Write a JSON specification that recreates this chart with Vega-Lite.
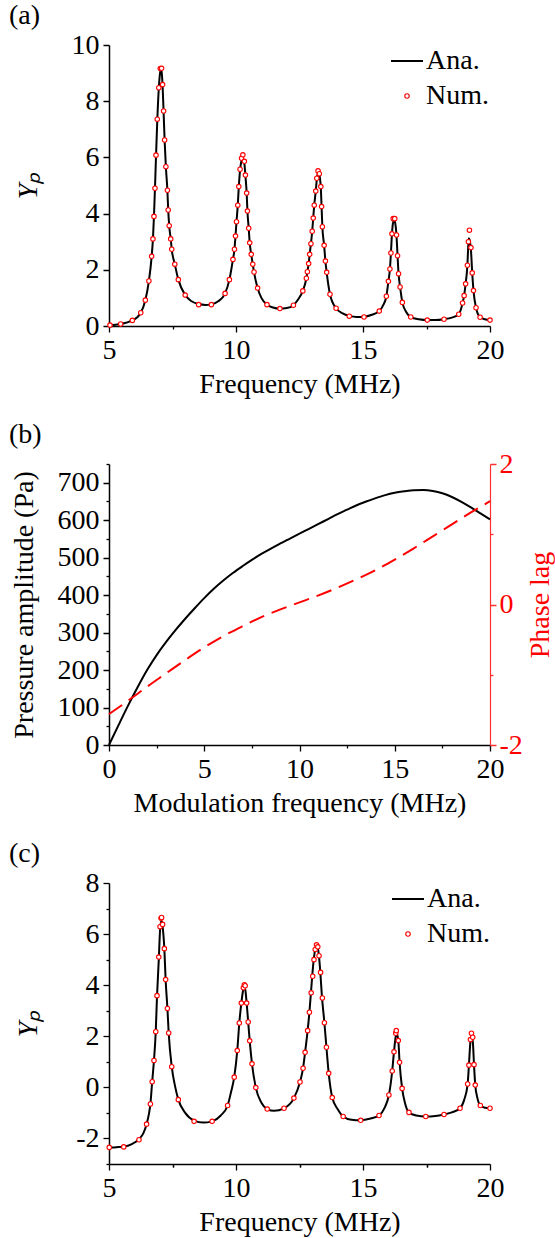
{
  "$schema": "https://vega.github.io/schema/vega-lite/v6.json",
  "padding": {"left": 9, "top": 2, "right": 2, "bottom": 2},
  "config": {
    "font": "Liberation Serif",
    "view": {"stroke": null},
    "axis": {"grid": false, "domainColor": "black", "domainWidth": 1.5, "tickColor": "black", "tickWidth": 1.3, "tickSize": 6, "labelFont": "Liberation Serif", "labelFontSize": 28, "labelColor": "black", "labelPadding": 4, "titleFont": "Liberation Serif", "titleFontSize": 28, "titleFontWeight": "normal", "titleColor": "black", "labelFlush": false, "labelOverlap": false, "labelBound": false},
    "legend": {"labelFont": "Liberation Serif", "labelFontSize": 28, "labelColor": "black", "padding": 0, "rowPadding": 7, "labelOffset": 5, "symbolSize": 1024},
    "title": {"font": "Liberation Serif", "fontSize": 28, "fontWeight": "normal", "color": "black", "anchor": "start", "frame": "group", "dx": -100, "offset": 1, "baseline": "alphabetic"}
  },
  "datasets": {
    "anaA": [
      {"f":5.0,"v":0.03},{"f":5.46,"v":0.07},{"f":5.92,"v":0.2},{"f":6.1,"v":0.3},{"f":6.25,"v":0.47},{"f":6.43,"v":0.92},{"f":6.57,"v":1.6},{"f":6.68,"v":2.48},{"f":6.73,"v":3.1},{"f":6.77,"v":3.9},{"f":6.81,"v":4.9},{"f":6.85,"v":6.0},{"f":6.9,"v":7.3},{"f":6.96,"v":8.45},{"f":7.01,"v":9.0},{"f":7.04,"v":9.1},{"f":7.07,"v":9.05},{"f":7.11,"v":8.55},{"f":7.15,"v":7.6},{"f":7.19,"v":6.6},{"f":7.24,"v":5.65},{"f":7.3,"v":4.8},{"f":7.33,"v":4.15},{"f":7.37,"v":3.57},{"f":7.43,"v":3.1},{"f":7.47,"v":2.73},{"f":7.59,"v":2.2},{"f":7.73,"v":1.65},{"f":8.0,"v":1.1},{"f":8.25,"v":0.88},{"f":8.53,"v":0.78},{"f":8.8,"v":0.75},{"f":9.03,"v":0.77},{"f":9.3,"v":0.88},{"f":9.57,"v":1.16},{"f":9.74,"v":1.65},{"f":9.88,"v":2.37},{"f":9.94,"v":2.73},{"f":9.98,"v":3.2},{"f":10.02,"v":3.71},{"f":10.07,"v":4.3},{"f":10.11,"v":4.96},{"f":10.16,"v":5.55},{"f":10.22,"v":5.9},{"f":10.26,"v":5.97},{"f":10.3,"v":5.9},{"f":10.34,"v":5.7},{"f":10.37,"v":5.35},{"f":10.42,"v":4.73},{"f":10.45,"v":4.09},{"f":10.5,"v":3.48},{"f":10.54,"v":2.96},{"f":10.6,"v":2.55},{"f":10.66,"v":2.2},{"f":10.71,"v":1.92},{"f":10.85,"v":1.35},{"f":11.0,"v":1.0},{"f":11.22,"v":0.76},{"f":11.45,"v":0.66},{"f":11.72,"v":0.62},{"f":12.0,"v":0.64},{"f":12.26,"v":0.74},{"f":12.45,"v":0.95},{"f":12.63,"v":1.25},{"f":12.77,"v":1.7},{"f":12.81,"v":1.93},{"f":12.86,"v":2.22},{"f":12.9,"v":2.55},{"f":12.95,"v":2.93},{"f":13.0,"v":3.37},{"f":13.04,"v":3.84},{"f":13.08,"v":4.3},{"f":13.14,"v":4.8},{"f":13.18,"v":5.2},{"f":13.22,"v":5.42},{"f":13.26,"v":5.45},{"f":13.3,"v":5.3},{"f":13.34,"v":4.9},{"f":13.37,"v":4.22},{"f":13.4,"v":3.53},{"f":13.47,"v":2.87},{"f":13.52,"v":2.31},{"f":13.57,"v":1.91},{"f":13.7,"v":1.13},{"f":13.94,"v":0.63},{"f":14.2,"v":0.45},{"f":14.46,"v":0.36},{"f":14.75,"v":0.32},{"f":15.04,"v":0.33},{"f":15.35,"v":0.4},{"f":15.64,"v":0.53},{"f":15.8,"v":0.75},{"f":15.92,"v":1.06},{"f":16.0,"v":1.59},{"f":16.06,"v":2.03},{"f":16.1,"v":2.6},{"f":16.14,"v":3.28},{"f":16.19,"v":3.7},{"f":16.23,"v":3.76},{"f":16.27,"v":3.65},{"f":16.32,"v":3.2},{"f":16.36,"v":2.5},{"f":16.4,"v":1.86},{"f":16.46,"v":1.39},{"f":16.55,"v":0.84},{"f":16.7,"v":0.5},{"f":16.88,"v":0.32},{"f":17.2,"v":0.24},{"f":17.53,"v":0.21},{"f":17.85,"v":0.21},{"f":18.19,"v":0.24},{"f":18.5,"v":0.3},{"f":18.77,"v":0.42},{"f":18.85,"v":0.58},{"f":18.92,"v":0.82},{"f":18.98,"v":1.08},{"f":19.04,"v":1.5},{"f":19.11,"v":2.16},{"f":19.15,"v":2.95},{"f":19.17,"v":3.12},{"f":19.2,"v":3.05},{"f":19.25,"v":2.7},{"f":19.3,"v":1.89},{"f":19.35,"v":1.26},{"f":19.45,"v":0.65},{"f":19.61,"v":0.31},{"f":19.8,"v":0.24},{"f":20.0,"v":0.21}
    ],
    "numA": [
      {"f":5.04,"v":0.03},{"f":5.46,"v":0.07},{"f":5.92,"v":0.2},{"f":6.25,"v":0.47},{"f":6.43,"v":0.92},{"f":6.57,"v":1.6},{"f":6.68,"v":2.48},{"f":6.73,"v":3.1},{"f":6.77,"v":3.9},{"f":6.81,"v":4.9},{"f":6.85,"v":6.08},{"f":6.9,"v":7.36},{"f":6.96,"v":8.48},{"f":7.02,"v":9.16},{"f":7.07,"v":9.17},{"f":7.11,"v":8.59},{"f":7.15,"v":7.65},{"f":7.19,"v":6.62},{"f":7.24,"v":5.67},{"f":7.3,"v":4.83},{"f":7.33,"v":4.13},{"f":7.37,"v":3.57},{"f":7.43,"v":3.1},{"f":7.47,"v":2.73},{"f":7.59,"v":2.2},{"f":7.73,"v":1.65},{"f":8.0,"v":1.1},{"f":8.53,"v":0.76},{"f":9.03,"v":0.76},{"f":9.57,"v":1.16},{"f":9.74,"v":1.65},{"f":9.88,"v":2.37},{"f":9.94,"v":2.73},{"f":9.98,"v":3.2},{"f":10.02,"v":3.71},{"f":10.07,"v":4.3},{"f":10.11,"v":4.96},{"f":10.16,"v":5.58},{"f":10.22,"v":5.97},{"f":10.27,"v":6.09},{"f":10.33,"v":5.86},{"f":10.37,"v":5.37},{"f":10.42,"v":4.73},{"f":10.45,"v":4.09},{"f":10.5,"v":3.48},{"f":10.54,"v":2.96},{"f":10.6,"v":2.55},{"f":10.66,"v":2.2},{"f":10.71,"v":1.92},{"f":10.85,"v":1.35},{"f":11.22,"v":0.76},{"f":11.73,"v":0.62},{"f":12.26,"v":0.74},{"f":12.63,"v":1.25},{"f":12.77,"v":1.7},{"f":12.81,"v":1.93},{"f":12.86,"v":2.22},{"f":12.9,"v":2.55},{"f":12.95,"v":2.93},{"f":13.0,"v":3.37},{"f":13.04,"v":3.84},{"f":13.08,"v":4.3},{"f":13.14,"v":4.8},{"f":13.18,"v":5.26},{"f":13.23,"v":5.52},{"f":13.28,"v":5.42},{"f":13.34,"v":4.96},{"f":13.37,"v":4.25},{"f":13.4,"v":3.53},{"f":13.47,"v":2.87},{"f":13.52,"v":2.31},{"f":13.57,"v":1.91},{"f":13.7,"v":1.13},{"f":13.94,"v":0.63},{"f":14.46,"v":0.35},{"f":15.04,"v":0.32},{"f":15.64,"v":0.53},{"f":15.92,"v":1.06},{"f":16.0,"v":1.59},{"f":16.06,"v":2.03},{"f":16.1,"v":2.6},{"f":16.14,"v":3.28},{"f":16.19,"v":3.82},{"f":16.25,"v":3.82},{"f":16.32,"v":3.24},{"f":16.36,"v":2.5},{"f":16.4,"v":1.86},{"f":16.46,"v":1.39},{"f":16.55,"v":0.84},{"f":16.88,"v":0.32},{"f":17.53,"v":0.21},{"f":18.19,"v":0.24},{"f":18.77,"v":0.42},{"f":18.92,"v":0.82},{"f":18.98,"v":1.08},{"f":19.04,"v":1.5},{"f":19.11,"v":2.16},{"f":19.15,"v":3.0},{"f":19.19,"v":3.41},{"f":19.25,"v":2.79},{"f":19.3,"v":1.89},{"f":19.35,"v":1.26},{"f":19.45,"v":0.65},{"f":19.61,"v":0.31},{"f":20.0,"v":0.21}
    ],
    "pbP": [
      {"f":0,"v":0},{"f":0.5,"v":53},{"f":1,"v":105},{"f":1.5,"v":154},{"f":2,"v":200},{"f":2.5,"v":240},{"f":3,"v":275},{"f":3.5,"v":307},{"f":4,"v":337},{"f":4.5,"v":365},{"f":5,"v":392},{"f":5.5,"v":417},{"f":6,"v":439},{"f":6.5,"v":459},{"f":7,"v":477},{"f":7.5,"v":494},{"f":8,"v":510},{"f":8.5,"v":524},{"f":9,"v":538},{"f":9.5,"v":551},{"f":10,"v":564},{"f":10.5,"v":577},{"f":11,"v":590},{"f":11.5,"v":603},{"f":12,"v":616},{"f":12.5,"v":628},{"f":13,"v":640},{"f":13.5,"v":650},{"f":14,"v":659},{"f":14.5,"v":667},{"f":15,"v":673},{"f":15.5,"v":677},{"f":16,"v":680},{"f":16.5,"v":680.5},{"f":17,"v":678},{"f":17.5,"v":672},{"f":18,"v":662},{"f":18.5,"v":649},{"f":19,"v":634},{"f":19.5,"v":618},{"f":20,"v":602}
    ],
    "pbL": [
      {"f":0,"v":-1.56},{"f":1,"v":-1.37},{"f":2,"v":-1.17},{"f":3,"v":-0.98},{"f":4,"v":-0.79},{"f":5,"v":-0.61},{"f":6,"v":-0.45},{"f":7,"v":-0.31},{"f":8,"v":-0.18},{"f":9,"v":-0.07},{"f":10,"v":0.03},{"f":11,"v":0.13},{"f":12,"v":0.24},{"f":13,"v":0.36},{"f":14,"v":0.49},{"f":15,"v":0.64},{"f":16,"v":0.8},{"f":17,"v":0.97},{"f":18,"v":1.14},{"f":19,"v":1.31},{"f":20,"v":1.47}
    ],
    "anaC": [
      {"f":5.0,"v":-2.35},{"f":5.3,"v":-2.34},{"f":5.58,"v":-2.32},{"f":5.9,"v":-2.22},{"f":6.18,"v":-2.03},{"f":6.35,"v":-1.8},{"f":6.48,"v":-1.44},{"f":6.57,"v":-1.05},{"f":6.63,"v":-0.65},{"f":6.7,"v":0.22},{"f":6.77,"v":1.05},{"f":6.84,"v":2.18},{"f":6.89,"v":3.55},{"f":6.96,"v":5.0},{"f":7.01,"v":6.15},{"f":7.05,"v":6.5},{"f":7.08,"v":6.5},{"f":7.11,"v":6.3},{"f":7.18,"v":5.4},{"f":7.23,"v":4.2},{"f":7.3,"v":3.09},{"f":7.35,"v":2.13},{"f":7.47,"v":0.81},{"f":7.6,"v":0.05},{"f":7.73,"v":-0.48},{"f":8.0,"v":-1.0},{"f":8.35,"v":-1.3},{"f":8.7,"v":-1.38},{"f":9.06,"v":-1.33},{"f":9.4,"v":-1.1},{"f":9.67,"v":-0.71},{"f":9.8,"v":-0.2},{"f":9.93,"v":0.4},{"f":10.05,"v":1.44},{"f":10.13,"v":2.52},{"f":10.21,"v":3.3},{"f":10.29,"v":3.85},{"f":10.33,"v":3.95},{"f":10.37,"v":3.8},{"f":10.42,"v":3.3},{"f":10.48,"v":2.56},{"f":10.54,"v":1.82},{"f":10.63,"v":0.92},{"f":10.78,"v":-0.01},{"f":11.0,"v":-0.6},{"f":11.23,"v":-0.85},{"f":11.5,"v":-0.92},{"f":11.89,"v":-0.82},{"f":12.28,"v":-0.42},{"f":12.52,"v":0.21},{"f":12.64,"v":0.75},{"f":12.72,"v":1.37},{"f":12.82,"v":2.22},{"f":12.89,"v":2.94},{"f":12.95,"v":3.7},{"f":13.0,"v":4.35},{"f":13.06,"v":5.0},{"f":13.12,"v":5.4},{"f":13.18,"v":5.5},{"f":13.22,"v":5.45},{"f":13.27,"v":5.1},{"f":13.32,"v":4.5},{"f":13.38,"v":3.6},{"f":13.48,"v":2.53},{"f":13.56,"v":1.57},{"f":13.65,"v":0.55},{"f":13.79,"v":-0.4},{"f":14.0,"v":-0.85},{"f":14.22,"v":-1.14},{"f":14.55,"v":-1.27},{"f":14.91,"v":-1.29},{"f":15.3,"v":-1.22},{"f":15.63,"v":-1.1},{"f":15.85,"v":-0.8},{"f":16.02,"v":-0.3},{"f":16.15,"v":0.64},{"f":16.22,"v":1.39},{"f":16.29,"v":2.0},{"f":16.33,"v":2.1},{"f":16.39,"v":1.83},{"f":16.44,"v":0.98},{"f":16.54,"v":-0.04},{"f":16.65,"v":-0.6},{"f":16.81,"v":-0.98},{"f":17.1,"v":-1.1},{"f":17.47,"v":-1.14},{"f":17.85,"v":-1.12},{"f":18.19,"v":-1.06},{"f":18.5,"v":-0.98},{"f":18.82,"v":-0.82},{"f":18.98,"v":-0.5},{"f":19.12,"v":0.13},{"f":19.17,"v":0.87},{"f":19.23,"v":1.8},{"f":19.27,"v":2.0},{"f":19.3,"v":1.95},{"f":19.33,"v":1.7},{"f":19.37,"v":0.89},{"f":19.42,"v":0.09},{"f":19.5,"v":-0.4},{"f":19.62,"v":-0.71},{"f":19.8,"v":-0.8},{"f":20.0,"v":-0.82}
    ],
    "numC": [
      {"f":5.01,"v":-2.35},{"f":5.58,"v":-2.33},{"f":6.18,"v":-2.05},{"f":6.48,"v":-1.44},{"f":6.63,"v":-0.65},{"f":6.7,"v":0.22},{"f":6.77,"v":1.05},{"f":6.84,"v":2.18},{"f":6.89,"v":3.59},{"f":6.96,"v":5.1},{"f":7.01,"v":6.29},{"f":7.05,"v":6.62},{"f":7.07,"v":6.65},{"f":7.11,"v":6.38},{"f":7.18,"v":5.43},{"f":7.23,"v":4.22},{"f":7.3,"v":3.09},{"f":7.35,"v":2.13},{"f":7.47,"v":0.81},{"f":7.73,"v":-0.48},{"f":8.35,"v":-1.33},{"f":9.06,"v":-1.33},{"f":9.67,"v":-0.71},{"f":9.93,"v":0.4},{"f":10.05,"v":1.44},{"f":10.13,"v":2.52},{"f":10.21,"v":3.3},{"f":10.29,"v":3.9},{"f":10.33,"v":4.02},{"f":10.36,"v":3.98},{"f":10.42,"v":3.3},{"f":10.48,"v":2.56},{"f":10.54,"v":1.82},{"f":10.63,"v":0.92},{"f":10.78,"v":-0.01},{"f":11.23,"v":-0.85},{"f":11.89,"v":-0.82},{"f":12.28,"v":-0.42},{"f":12.52,"v":0.21},{"f":12.64,"v":0.75},{"f":12.72,"v":1.37},{"f":12.82,"v":2.22},{"f":12.89,"v":2.94},{"f":12.96,"v":3.7},{"f":13.02,"v":4.35},{"f":13.07,"v":5.0},{"f":13.12,"v":5.4},{"f":13.17,"v":5.58},{"f":13.22,"v":5.5},{"f":13.27,"v":5.15},{"f":13.33,"v":4.5},{"f":13.4,"v":3.5},{"f":13.48,"v":2.53},{"f":13.56,"v":1.57},{"f":13.65,"v":0.55},{"f":13.79,"v":-0.4},{"f":14.22,"v":-1.14},{"f":14.91,"v":-1.29},{"f":15.63,"v":-1.1},{"f":16.02,"v":-0.3},{"f":16.15,"v":0.64},{"f":16.22,"v":1.39},{"f":16.29,"v":2.12},{"f":16.31,"v":2.22},{"f":16.39,"v":1.83},{"f":16.44,"v":0.98},{"f":16.54,"v":-0.04},{"f":16.81,"v":-0.98},{"f":17.47,"v":-1.14},{"f":18.19,"v":-1.06},{"f":18.82,"v":-0.82},{"f":19.12,"v":0.13},{"f":19.17,"v":0.87},{"f":19.23,"v":1.87},{"f":19.27,"v":2.12},{"f":19.32,"v":1.96},{"f":19.37,"v":0.89},{"f":19.42,"v":0.09},{"f":19.62,"v":-0.71},{"f":20.0,"v":-0.82}
    ]
  },
  "bounds": "flush",
  "spacing": 138,
  "resolve": {"scale": {"color": "independent"}, "legend": {"color": "independent"}},
  "vconcat": [
    {
      "width": 381, "height": 281,
      "title": {"text": "(a)"},
      "layer": [
        {
          "data": {"name": "anaA"},
          "mark": {"type": "line", "interpolate": "monotone", "strokeWidth": 2},
          "encoding": {
            "x": {"field": "f", "type": "quantitative", "scale": {"domain": [5, 20], "nice": false, "zero": false},
              "axis": {"title": "Frequency (MHz)", "values": [5, 7.5, 10, 12.5, 15, 17.5, 20], "labelExpr": "datum.value % 5 === 0 ? toString(datum.value) : ''", "tickDash": {"condition": {"test": "datum.value % 5 !== 0", "value": [3, 20]}, "value": [1, 0]}, "titlePadding": 6}},
            "y": {"field": "v", "type": "quantitative", "scale": {"domain": [0, 10], "nice": false},
              "axis": {"title": "Yₚ", "titleFontStyle": "italic", "values": [0,1,2,3,4,5,6,7,8,9,10], "labelExpr": "datum.value % 2 === 0 ? toString(datum.value) : ''", "tickDash": {"condition": {"test": "datum.value % 2 !== 0", "value": [3, 20]}, "value": [1, 0]}, "titlePadding": 29}},
            "color": {"datum": "Ana.", "type": "nominal", "scale": {"domain": ["Ana.", "Num."], "range": ["#000000", "#ff0000"]},
              "legend": {"title": null, "orient": "none", "legendX": 284, "legendY": 2, "values": ["Ana.", "Num."],
                "encode": {"symbols": {"update": {
                  "shape": {"signal": "datum.value === 'Ana.' ? 'stroke' : 'circle'"},
                  "size": {"signal": "datum.value === 'Ana.' ? 1024 : 20"},
                  "strokeWidth": {"signal": "datum.value === 'Ana.' ? 2 : 1.1"},
                  "stroke": {"signal": "datum.value === 'Ana.' ? '#000000' : '#ff0000'"},
                  "fill": {"value": "white"},
                  "opacity": {"value": 1}}}}}}
          }
        },
        {
          "data": {"name": "numA"},
          "mark": {"type": "point", "shape": "circle", "filled": false, "fill": "white", "size": 20, "strokeWidth": 1.1, "opacity": 1},
          "encoding": {
            "x": {"field": "f", "type": "quantitative"},
            "y": {"field": "v", "type": "quantitative"},
            "color": {"datum": "Num.", "type": "nominal"}
          }
        }
      ]
    },
    {
      "width": 381, "height": 281,
      "title": {"text": "(b)"},
      "layer": [
        {
          "data": {"name": "pbP"},
          "mark": {"type": "line", "interpolate": "monotone", "strokeWidth": 2, "color": "#000000"},
          "encoding": {
            "x": {"field": "f", "type": "quantitative", "scale": {"domain": [0, 20], "nice": false, "zero": false},
              "axis": {"title": "Modulation frequency (MHz)", "values": [0, 2.5, 5, 7.5, 10, 12.5, 15, 17.5, 20], "labelExpr": "datum.value % 5 === 0 ? toString(datum.value) : ''", "tickDash": {"condition": {"test": "datum.value % 5 !== 0", "value": [3, 20]}, "value": [1, 0]}, "titlePadding": 6}},
            "y": {"field": "v", "type": "quantitative", "scale": {"domain": [0, 750], "nice": false},
              "axis": {"title": "Pressure amplitude (Pa)", "orient": "left", "values": [0,50,100,150,200,250,300,350,400,450,500,550,600,650,700,750], "labelExpr": "datum.value % 100 === 0 ? toString(datum.value) : ''", "tickDash": {"condition": {"test": "datum.value % 100 !== 0", "value": [3, 20]}, "value": [1, 0]}, "titlePadding": 19}}
          }
        },
        {
          "data": {"name": "pbL"},
          "mark": {"type": "line", "interpolate": "monotone", "strokeWidth": 2, "color": "#ff0000", "strokeDash": [16, 8]},
          "encoding": {
            "x": {"field": "f", "type": "quantitative"},
            "y": {"field": "v", "type": "quantitative", "scale": {"domain": [-2, 2], "nice": false, "zero": false},
              "axis": {"title": "Phase lag", "orient": "right", "values": [-2, -1, 0, 1, 2], "labelExpr": "datum.value % 2 === 0 ? toString(datum.value) : ''", "tickDash": {"condition": {"test": "datum.value % 2 !== 0", "value": [3, 20]}, "value": [1, 0]}, "domainColor": "#ff3030", "domainWidth": 1.2, "tickColor": "#ff3030", "labelColor": "#ff0000", "titleColor": "#ff0000", "labelPadding": 3, "titleAngle": -90, "titleBaseline": "top", "titlePadding": 4}}
          }
        }
      ],
      "resolve": {"scale": {"y": "independent"}}
    },
    {
      "width": 381, "height": 281,
      "title": {"text": "(c)"},
      "layer": [
        {
          "data": {"name": "anaC"},
          "mark": {"type": "line", "interpolate": "monotone", "strokeWidth": 2},
          "encoding": {
            "x": {"field": "f", "type": "quantitative", "scale": {"domain": [5, 20], "nice": false, "zero": false},
              "axis": {"title": "Frequency (MHz)", "values": [5, 7.5, 10, 12.5, 15, 17.5, 20], "labelExpr": "datum.value % 5 === 0 ? toString(datum.value) : ''", "tickDash": {"condition": {"test": "datum.value % 5 !== 0", "value": [3, 20]}, "value": [1, 0]}, "titlePadding": 6}},
            "y": {"field": "v", "type": "quantitative", "scale": {"domain": [-3, 8], "nice": false},
              "axis": {"title": "Yₚ", "titleFontStyle": "italic", "orient": "left", "values": [-2, 0, 2, 4, 6, 8], "labelExpr": "toString(datum.value)", "titlePadding": 33}},
            "color": {"datum": "Ana.", "type": "nominal", "scale": {"domain": ["Ana.", "Num."], "range": ["#000000", "#ff0000"]},
              "legend": {"title": null, "orient": "none", "legendX": 285, "legendY": 2, "values": ["Ana.", "Num."],
                "encode": {"symbols": {"update": {
                  "shape": {"signal": "datum.value === 'Ana.' ? 'stroke' : 'circle'"},
                  "size": {"signal": "datum.value === 'Ana.' ? 1024 : 20"},
                  "strokeWidth": {"signal": "datum.value === 'Ana.' ? 2 : 1.1"},
                  "stroke": {"signal": "datum.value === 'Ana.' ? '#000000' : '#ff0000'"},
                  "fill": {"value": "white"},
                  "opacity": {"value": 1}}}}}}
          }
        },
        {
          "data": {"name": "numC"},
          "mark": {"type": "point", "shape": "circle", "filled": false, "fill": "white", "size": 20, "strokeWidth": 1.1, "opacity": 1},
          "encoding": {
            "x": {"field": "f", "type": "quantitative", "axis": {"orient": "bottom", "title": null, "labels": false, "domain": false, "values": [7.5, 12.5, 17.5], "tickSize": 3}},
            "y": {"field": "v", "type": "quantitative", "axis": {"orient": "left", "title": null, "labels": false, "domain": false, "values": [-3, -1, 1, 3, 5, 7], "tickSize": 3}},
            "color": {"datum": "Num.", "type": "nominal"}
          }
        }
      ],
      "resolve": {"axis": {"x": "independent", "y": "independent"}}
    }
  ]
}
